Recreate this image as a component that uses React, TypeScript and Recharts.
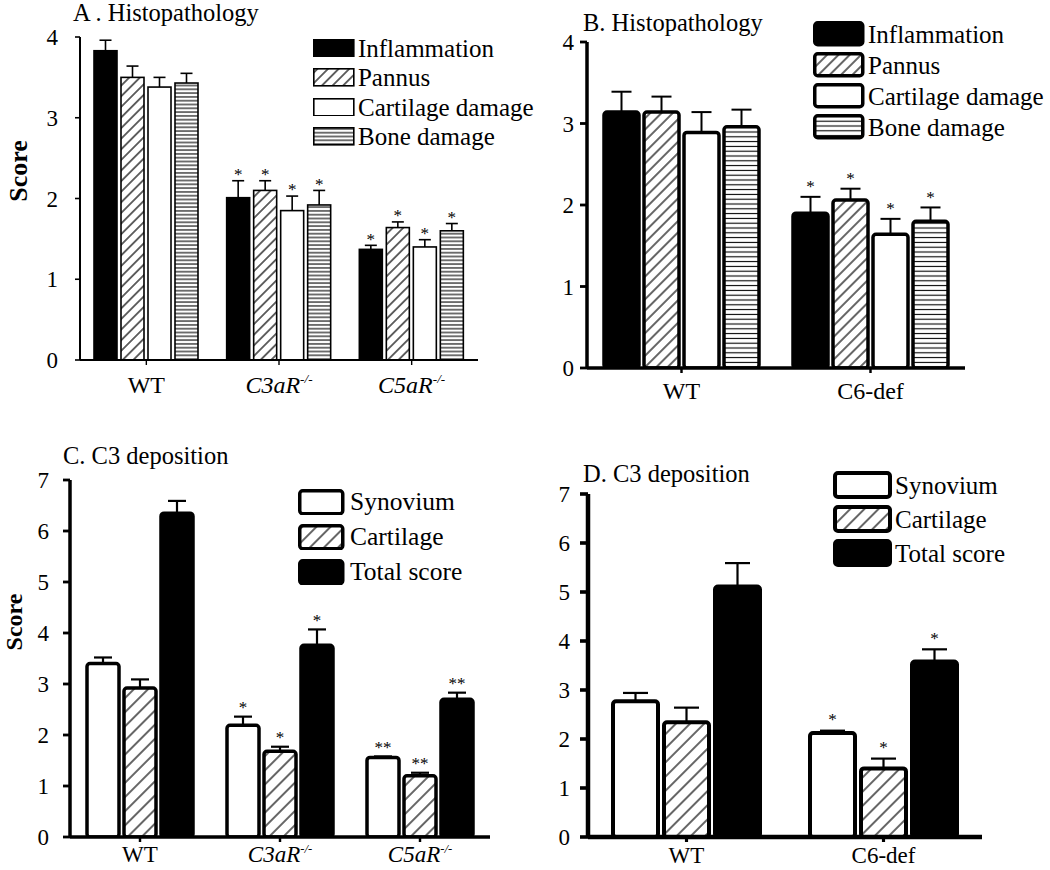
import React from "react";
import { BarChart, Bar, XAxis, YAxis } from "recharts";

const FONT = "'Liberation Serif', 'Times New Roman', Times, serif";

// ---------- series names / fills ----------
const histoSeries = ["Inflammation", "Pannus", "Cartilage damage", "Bone damage"];
const histoFills = ["black", "hatch", "white", "hlines"];
const c3Series = ["Synovium", "Cartilage", "Total score"];
const c3Fills = ["white", "hatch", "black"];

// ---------- Panel A ----------
const catsA = ["WT", "C3aR-/-", "C5aR-/-"];
const starsA = ["", "*", "*"];
const inflammationA = [3.83, 2.01, 1.37];
const inflammationErrA = [0.13, 0.21, 0.05];
const pannusA = [3.5, 2.1, 1.64];
const pannusErrA = [0.14, 0.12, 0.07];
const cartilageDmgA = [3.38, 1.85, 1.4];
const cartilageDmgErrA = [0.12, 0.18, 0.09];
const boneDmgA = [3.43, 1.92, 1.6];
const boneDmgErrA = [0.12, 0.18, 0.09];
const ticksA = [0, 1, 2, 3, 4];

// ---------- Panel B ----------
const catsB = ["WT", "C6-def"];
const starsB = ["", "*"];
const inflammationB = [3.14, 1.9];
const inflammationErrB = [0.25, 0.2];
const pannusB = [3.14, 2.06];
const pannusErrB = [0.19, 0.14];
const cartilageDmgB = [2.89, 1.64];
const cartilageDmgErrB = [0.25, 0.19];
const boneDmgB = [2.96, 1.8];
const boneDmgErrB = [0.21, 0.17];
const ticksB = [0, 1, 2, 3, 4];

// ---------- Panel C ----------
const catsC = ["WT", "C3aR-/-", "C5aR-/-"];
const starsC = ["", "*", "**"];
const synoviumC = [3.4, 2.19, 1.56];
const synoviumErrC = [0.12, 0.17, 0.02];
const cartilageC = [2.92, 1.68, 1.2];
const cartilageErrC = [0.17, 0.09, 0.06];
const totalC = [6.35, 3.76, 2.7];
const totalErrC = [0.24, 0.31, 0.13];
const ticksC = [0, 1, 2, 3, 4, 5, 6, 7];

// ---------- Panel D ----------
const catsD = ["WT", "C6-def"];
const starsD = ["", "*"];
const synoviumD = [2.77, 2.12];
const synoviumErrD = [0.17, 0.05];
const cartilageD = [2.34, 1.4];
const cartilageErrD = [0.3, 0.2];
const totalD = [5.11, 3.58];
const totalErrD = [0.48, 0.25];
const ticksD = [0, 1, 2, 3, 4, 5, 6, 7];

const buildRows = (cats: string[], stars: string[], vals: number[][], errs: number[][]) =>
  cats.map((c, i) => {
    const r: any = { cat: c, star: stars[i] };
    vals.forEach((v, s) => {
      r[`s${s}`] = v[i];
      r[`e${s}`] = errs[s][i];
    });
    return r;
  });

const rowsA = buildRows(catsA, starsA, [inflammationA, pannusA, cartilageDmgA, boneDmgA], [inflammationErrA, pannusErrA, cartilageDmgErrA, boneDmgErrA]);
const rowsB = buildRows(catsB, starsB, [inflammationB, pannusB, cartilageDmgB, boneDmgB], [inflammationErrB, pannusErrB, cartilageDmgErrB, boneDmgErrB]);
const rowsC = buildRows(catsC, starsC, [synoviumC, cartilageC, totalC], [synoviumErrC, cartilageErrC, totalErrC]);
const rowsD = buildRows(catsD, starsD, [synoviumD, cartilageD, totalD], [synoviumErrD, cartilageErrD, totalErrD]);

type Cfg = {
  id: string;
  left: number;
  top: number;
  width: number;
  height: number;
  margin: { top: number; right: number; bottom: number; left: number };
  domain: [number, number];
  ticks: number[];
  rows: any[];
  series: string[];
  fills: string[];
  barGap: number;
  barCategoryGap: number;
  barStroke: number;
  rx: number;
  axisStroke: number;
  errStroke: number;
  cap: number;
  starGap: number;
  starSize: number;
  hatch: number;
  hline: number;
  yTickSize: number;
  yTickMargin: number;
  yFont: number;
  xTickMargin: number;
  xFont: number;
};

const PatternDefs = ({ id, hatch, hline }: { id: string; hatch: number; hline: number }) => (
  <defs>
    <pattern id={`hatch-${id}`} patternUnits="userSpaceOnUse" width={hatch} height={hatch} patternTransform="rotate(45)">
      <rect x={0} y={0} width={hatch} height={hatch} fill="#fff" />
      <line x1={hatch / 2} y1={-1} x2={hatch / 2} y2={hatch + 1} stroke="#000" strokeWidth={1.2} />
    </pattern>
    <pattern id={`hlines-${id}`} patternUnits="userSpaceOnUse" width={10} height={hline}>
      <rect x={0} y={0} width={10} height={hline} fill="#fff" />
      <line x1={0} y1={hline / 2} x2={10} y2={hline / 2} stroke="#000" strokeWidth={1.1} />
    </pattern>
  </defs>
);

const fillFor = (f: string, id: string) =>
  f === "black" ? "#000" : f === "white" ? "#fff" : `url(#${f}-${id})`;

const makeShape = (cfg: Cfg, i: number) => (p: any) => {
  const { x, y, width, height, payload } = p;
  const v = payload[`s${i}`];
  const e = payload[`e${i}`];
  if (!v || height <= 0) return <g />;
  const ppu = height / v;
  const ey = y - e * ppu;
  const cx = x + width / 2;
  const fill = fillFor(cfg.fills[i], cfg.id);
  const star = payload.star;
  return (
    <g>
      <line x1={cx} x2={cx} y1={y} y2={ey} stroke="#000" strokeWidth={cfg.errStroke} />
      <line x1={cx - cfg.cap / 2} x2={cx + cfg.cap / 2} y1={ey} y2={ey} stroke="#000" strokeWidth={cfg.errStroke} />
      <rect x={x} y={y} width={width} height={height} rx={cfg.rx} ry={cfg.rx} fill={fill} stroke="#000" strokeWidth={cfg.barStroke} />
      {star ? (
        <text x={cx} y={ey - cfg.starGap + cfg.starSize * 0.55} textAnchor="middle" fontFamily={FONT} fontSize={cfg.starSize} fill="#000">
          {star}
        </text>
      ) : null}
    </g>
  );
};

const CatTick = (props: any) => {
  const { x, y, payload, fontSize } = props;
  const label: string = String(payload.value);
  const sup = label.endsWith("-/-");
  return (
    <text x={x} y={y + fontSize * 0.71} textAnchor="middle" fontFamily={FONT} fontSize={fontSize} fill="#000">
      {sup ? (
        <>
          <tspan fontStyle="italic">{label.slice(0, -3)}</tspan>
          <tspan fontSize={fontSize * 0.55} dy={-fontSize * 0.42} fontStyle="italic">
            -/-
          </tspan>
        </>
      ) : (
        label
      )}
    </text>
  );
};

const Panel = ({ cfg }: { cfg: Cfg }) => (
  <div style={{ position: "absolute", left: cfg.left, top: cfg.top }}>
    <BarChart
      width={cfg.width}
      height={cfg.height}
      data={cfg.rows}
      margin={cfg.margin}
      barGap={cfg.barGap}
      barCategoryGap={cfg.barCategoryGap}
    >
      <PatternDefs id={cfg.id} hatch={cfg.hatch} hline={cfg.hline} />
      <XAxis
        dataKey="cat"
        height={30}
        axisLine={{ stroke: "#000", strokeWidth: cfg.axisStroke }}
        tickLine={{ stroke: "#000", strokeWidth: cfg.axisStroke * 0.7 }}
        tickSize={5}
        tickMargin={cfg.xTickMargin}
        interval={0}
        tick={(tp: any) => <CatTick {...tp} fontSize={cfg.xFont} />}
      />
      <YAxis
        width={40}
        domain={cfg.domain}
        ticks={cfg.ticks}
        interval={0}
        allowDataOverflow
        axisLine={{ stroke: "#000", strokeWidth: cfg.axisStroke }}
        tickLine={{ stroke: "#000", strokeWidth: cfg.axisStroke * 0.8 }}
        tickSize={cfg.yTickSize}
        tickMargin={cfg.yTickMargin}
        tick={{ fill: "#000", fontSize: cfg.yFont, fontFamily: FONT }}
      />
      {cfg.series.map((s, i) => (
        <Bar key={s} name={s} dataKey={`s${i}`} isAnimationActive={false} shape={makeShape(cfg, i)} />
      ))}
    </BarChart>
  </div>
);

type LegendCfg = {
  id: string;
  items: string[];
  fills: string[];
  x: number;
  y0: number;
  step: number;
  boxW: number;
  boxH: number;
  stroke: number;
  rx: number;
  textX: number;
  fontSize: number;
  hatch: number;
  hline: number;
};

const LegendBlock = ({ cfg }: { cfg: LegendCfg }) => (
  <>
    {cfg.items.map((name, i) => {
      const rowH = 30;
      const sw = cfg.boxW + cfg.stroke;
      const sh = cfg.boxH + cfg.stroke;
      const pid = `lg-${cfg.id}`;
      return (
        <div
          key={name}
          style={{
            position: "absolute",
            left: cfg.x - cfg.stroke / 2,
            top: cfg.y0 + i * cfg.step - rowH / 2,
            height: rowH,
            display: "flex",
            alignItems: "center",
            whiteSpace: "nowrap",
          }}
        >
          <svg width={sw} height={sh} style={{ display: "block" }}>
            <PatternDefs id={pid} hatch={cfg.hatch} hline={cfg.hline} />
            <rect
              x={cfg.stroke / 2}
              y={cfg.stroke / 2}
              width={cfg.boxW}
              height={cfg.boxH}
              rx={cfg.rx}
              fill={fillFor(cfg.fills[i], pid)}
              stroke="#000"
              strokeWidth={cfg.stroke}
            />
          </svg>
          <span
            style={{
              marginLeft: cfg.textX - cfg.x - cfg.boxW - cfg.stroke / 2,
              fontFamily: FONT,
              fontSize: cfg.fontSize,
              lineHeight: 1,
              color: "#000",
            }}
          >
            {name}
          </span>
        </div>
      );
    })}
  </>
);

const cfgA: Cfg = {
  id: "A", left: 0, top: 0, width: 530, height: 420,
  margin: { top: 37, right: 52, bottom: 30, left: 40 },
  domain: [0, 4], ticks: ticksA, rows: rowsA, series: histoSeries, fills: histoFills,
  barGap: 4, barCategoryGap: 14, barStroke: 1.6, rx: 0, axisStroke: 2,
  errStroke: 1.6, cap: 12, starGap: 10, starSize: 17, hatch: 7.5, hline: 3.8,
  yTickSize: 5, yTickMargin: 17, yFont: 23, xTickMargin: 11, xFont: 24,
};
const cfgB: Cfg = {
  id: "B", left: 520, top: 0, width: 530, height: 420,
  margin: { top: 42, right: 85, bottom: 22, left: 27 },
  domain: [0, 4], ticks: ticksB, rows: rowsB, series: histoSeries, fills: histoFills,
  barGap: 5, barCategoryGap: 17, barStroke: 3.5, rx: 3, axisStroke: 3.5,
  errStroke: 2, cap: 20, starGap: 14, starSize: 17, hatch: 8, hline: 4.8,
  yTickSize: 7, yTickMargin: 6, yFont: 23, xTickMargin: 9, xFont: 24,
};
const cfgC: Cfg = {
  id: "C", left: 0, top: 420, width: 530, height: 450,
  margin: { top: 60, right: 40, bottom: 3, left: 30 },
  domain: [0, 7], ticks: ticksC, rows: rowsC, series: c3Series, fills: c3Fills,
  barGap: 5, barCategoryGap: 17, barStroke: 3.5, rx: 3, axisStroke: 3.5,
  errStroke: 2.2, cap: 18, starGap: 13, starSize: 17, hatch: 10, hline: 5,
  yTickSize: 7, yTickMargin: 14, yFont: 23, xTickMargin: 4, xFont: 23,
};
const cfgD: Cfg = {
  id: "D", left: 520, top: 420, width: 530, height: 450,
  margin: { top: 74, right: 68, bottom: 3, left: 28 },
  domain: [0, 7], ticks: ticksD, rows: rowsD, series: c3Series, fills: c3Fills,
  barGap: 6, barCategoryGap: 25, barStroke: 4, rx: 3, axisStroke: 4.5,
  errStroke: 2.2, cap: 25, starGap: 15, starSize: 17, hatch: 10, hline: 5,
  yTickSize: 8, yTickMargin: 10, yFont: 23, xTickMargin: 5, xFont: 23,
};

const legA: LegendCfg = { id: "LA", items: histoSeries, fills: histoFills, x: 314, y0: 48, step: 29.5, boxW: 40, boxH: 17, stroke: 1.6, rx: 0, textX: 358, fontSize: 25, hatch: 7.5, hline: 3.8 };
const legB: LegendCfg = { id: "LB", items: histoSeries, fills: histoFills, x: 815, y0: 34, step: 31, boxW: 48, boxH: 22, stroke: 3.5, rx: 3, textX: 868, fontSize: 25, hatch: 8, hline: 4.8 };
const legC: LegendCfg = { id: "LC", items: c3Series, fills: c3Fills, x: 300, y0: 502, step: 35, boxW: 43, boxH: 23, stroke: 3.5, rx: 3, textX: 350, fontSize: 25.5, hatch: 10, hline: 5 };
const legD: LegendCfg = { id: "LD", items: c3Series, fills: c3Fills, x: 835, y0: 485, step: 34, boxW: 55, boxH: 24, stroke: 4, rx: 3, textX: 895, fontSize: 25, hatch: 10, hline: 5 };

const Title = ({ text, x, top }: { text: string; x: number; top: number }) => (
  <div style={{ position: "absolute", left: x, top, fontFamily: FONT, fontSize: 24.5, lineHeight: 1, whiteSpace: "nowrap", color: "#000" }}>
    {text}
  </div>
);

const ScoreLabel = ({ cx, cy, size }: { cx: number; cy: number; size: number }) => (
  <div
    style={{
      position: "absolute",
      left: cx,
      top: cy,
      transform: "translate(-50%, -50%) rotate(-90deg)",
      fontFamily: FONT,
      fontWeight: "bold",
      fontSize: size,
      lineHeight: 1,
      whiteSpace: "nowrap",
      color: "#000",
    }}
  >
    Score
  </div>
);

export default function App() {
  return (
    <div style={{ position: "absolute", left: 0, top: 0, width: 1050, height: 870, background: "#fff", overflow: "hidden" }}>
      <Panel cfg={cfgA} />
      <Panel cfg={cfgB} />
      <Panel cfg={cfgC} />
      <Panel cfg={cfgD} />
      <Title text="A . Histopathology" x={73} top={1} />
      <Title text="B. Histopathology" x={583} top={11} />
      <Title text="C. C3 deposition" x={63} top={444} />
      <Title text="D. C3 deposition" x={583} top={462} />
      <ScoreLabel cx={19} cy={171} size={26} />
      <ScoreLabel cx={14} cy={622} size={24} />
      <LegendBlock cfg={legA} />
      <LegendBlock cfg={legB} />
      <LegendBlock cfg={legC} />
      <LegendBlock cfg={legD} />
    </div>
  );
}
